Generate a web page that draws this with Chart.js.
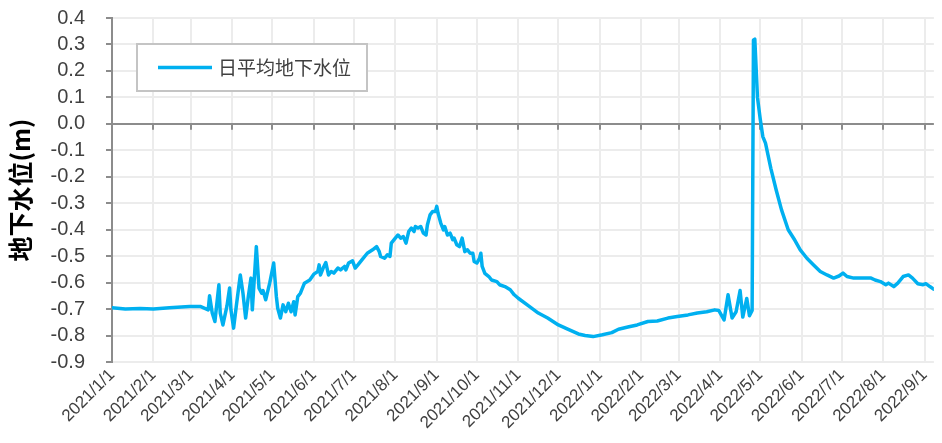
<!DOCTYPE html>
<html>
<head>
<meta charset="utf-8">
<script src="https://cdn.jsdelivr.net/npm/chart.js@4.4.1/dist/chart.umd.min.js"></script>
<style>
  html, body { margin: 0; padding: 0; background: #fff; }
  #wrap { width: 942px; height: 443px; position: relative; }
</style>
</head>
<body>
<div id="wrap"><canvas id="c" width="942" height="443"></canvas></div>
<script>
// Day offsets counted from 2021/1/1
const days = [0,10,21,31,43,58,66,72,73,75,77,80,81,83,86,88,89,91,93,96,98,100,102,104,105,108,110,112,113,115,118,121,123,124,126,128,130,132,134,136,137,139,141,144,148,151,154,155,156,158,160,162,164,166,169,171,174,175,177,180,182,184,187,191,195,198,200,201,204,206,208,209,212,214,216,218,220,222,224,226,227,229,231,233,235,236,238,240,242,243,244,246,248,249,251,253,255,256,258,260,262,264,266,268,270,271,273,275,276,277,279,282,284,288,290,294,298,301,304,312,319,326,334,341,349,354,360,367,374,379,386,393,401,408,416,423,431,438,445,451,454,458,461,464,467,470,472,475,477,479,480,481,483,485,487,489,493,497,501,506,511,515,520,525,530,535,540,544,547,550,555,563,568,571,575,579,581,585,588,592,596,599,603,607,609,612,615];
const levels = [-0.695,-0.700,-0.698,-0.700,-0.695,-0.690,-0.690,-0.703,-0.650,-0.715,-0.747,-0.608,-0.715,-0.760,-0.689,-0.620,-0.703,-0.772,-0.689,-0.571,-0.640,-0.734,-0.653,-0.583,-0.703,-0.464,-0.621,-0.640,-0.630,-0.665,-0.602,-0.526,-0.653,-0.697,-0.734,-0.684,-0.710,-0.678,-0.710,-0.672,-0.722,-0.653,-0.640,-0.602,-0.590,-0.568,-0.558,-0.533,-0.571,-0.545,-0.524,-0.571,-0.558,-0.564,-0.545,-0.552,-0.539,-0.552,-0.526,-0.518,-0.545,-0.533,-0.514,-0.489,-0.476,-0.464,-0.483,-0.501,-0.508,-0.495,-0.501,-0.451,-0.432,-0.420,-0.432,-0.426,-0.451,-0.407,-0.394,-0.407,-0.388,-0.394,-0.388,-0.413,-0.420,-0.382,-0.344,-0.331,-0.331,-0.312,-0.338,-0.375,-0.401,-0.388,-0.420,-0.413,-0.438,-0.432,-0.457,-0.464,-0.432,-0.483,-0.476,-0.489,-0.489,-0.520,-0.526,-0.508,-0.489,-0.539,-0.565,-0.577,-0.590,-0.596,-0.608,-0.615,-0.627,-0.646,-0.659,-0.689,-0.715,-0.734,-0.760,-0.776,-0.794,-0.800,-0.804,-0.797,-0.789,-0.776,-0.768,-0.760,-0.747,-0.745,-0.734,-0.728,-0.722,-0.715,-0.710,-0.703,-0.705,-0.741,-0.646,-0.734,-0.710,-0.630,-0.730,-0.660,-0.725,-0.705,0.317,0.320,0.100,0.020,-0.048,-0.073,-0.168,-0.250,-0.325,-0.400,-0.440,-0.476,-0.508,-0.533,-0.558,-0.571,-0.583,-0.575,-0.564,-0.577,-0.583,-0.583,-0.583,-0.590,-0.596,-0.608,-0.602,-0.615,-0.602,-0.577,-0.571,-0.583,-0.604,-0.608,-0.604,-0.615,-0.625];
// Month starts (day offsets) and their tick labels
const monthDays = [0,31,59,90,120,151,181,212,243,273,304,334,365,396,424,455,485,516,546,577,608];
const monthLabels = ['2021/1/1','2021/2/1','2021/3/1','2021/4/1','2021/5/1','2021/6/1','2021/7/1','2021/8/1','2021/9/1','2021/10/1','2021/11/1','2021/12/1','2022/1/1','2022/2/1','2022/3/1','2022/4/1','2022/5/1','2022/6/1','2022/7/1','2022/8/1','2022/9/1'];
const seriesName = '日平均地下水位';
const yTitle = '地下水位(m)';

const points = days.map((d, i) => ({ x: d, y: levels[i] }));
const LINE = '#00B0F0';
const AXIS = '#8c8c8c';
const GRID = '#ececec';
const TXT = '#404040';

const zeroTicks = {
  id: 'zeroTicks',
  beforeDatasetsDraw(chart) {
    const { ctx, scales: { x, y } } = chart;
    const y0 = y.getPixelForValue(0);
    ctx.save();
    ctx.strokeStyle = AXIS;
    ctx.lineWidth = 2;
    ctx.beginPath();
    monthDays.forEach(d => {
      const px = Math.round(x.getPixelForValue(d));
      ctx.moveTo(px, y0);
      ctx.lineTo(px, y0 + 6);
    });
    ctx.stroke();
    ctx.restore();
  }
};

const boxLegend = {
  id: 'boxLegend',
  afterDatasetsDraw(chart) {
    const { ctx } = chart;
    const ds = chart.data.datasets[0];
    ctx.save();
    ctx.fillStyle = '#fff';
    ctx.fillRect(137, 44, 230, 47);
    ctx.strokeStyle = '#c4c4c4';
    ctx.lineWidth = 2;
    ctx.strokeRect(137, 44, 230, 47);
    ctx.strokeStyle = ds.borderColor;
    ctx.lineWidth = 3.5;
    ctx.beginPath();
    ctx.moveTo(158, 67.5);
    ctx.lineTo(212, 67.5);
    ctx.stroke();
    ctx.fillStyle = TXT;
    ctx.font = '19px "Noto Sans CJK SC", "Noto Sans", sans-serif';
    ctx.textBaseline = 'middle';
    ctx.textAlign = 'left';
    ctx.fillText(ds.label, 218, 68);
    ctx.restore();
  }
};

new Chart(document.getElementById('c'), {
  type: 'line',
  data: {
    datasets: [{
      label: seriesName,
      data: points,
      borderColor: LINE,
      backgroundColor: LINE,
      borderWidth: 3.5,
      borderJoinStyle: 'round',
      borderCapStyle: 'round',
      pointRadius: 0,
      tension: 0,
      fill: false
    }]
  },
  options: {
    responsive: false,
    animation: false,
    devicePixelRatio: 1,
    layout: { padding: { top: 18, right: 5, left: 0, bottom: 0 } },
    plugins: { legend: { display: false }, tooltip: { enabled: false } },
    scales: {
      x: {
        type: 'linear',
        min: 0,
        max: 615,
        afterBuildTicks(scale) { scale.ticks = monthDays.map(v => ({ value: v })); },
        afterFit(scale) { scale.height = 81; },
        ticks: {
          autoSkip: false,
          minRotation: 45,
          maxRotation: 45,
          padding: 3,
          color: TXT,
          font: { family: 'Liberation Sans', size: 17 },
          callback(v) { const i = monthDays.indexOf(v); return i >= 0 ? monthLabels[i] : ''; }
        },
        grid: { color: GRID, lineWidth: 2, drawTicks: false },
        border: { display: false }
      },
      y: {
        min: -0.9,
        max: 0.4,
        afterBuildTicks(scale) {
          const t = [];
          for (let i = -9; i <= 4; i++) t.push({ value: i / 10 });
          scale.ticks = t;
        },
        afterFit(scale) {
          scale.width = 112;
          scale.paddingTop = 10;
          scale.paddingBottom = 10;
        },
        ticks: {
          autoSkip: false,
          color: TXT,
          padding: 21,
          font: { family: 'Liberation Sans', size: 20, lineHeight: 1 },
          callback(v) { return (Math.round(v * 10) / 10).toFixed(1); }
        },
        grid: {
          color: ctx => (ctx.tick && Math.abs(ctx.tick.value) < 1e-9 ? AXIS : GRID),
          lineWidth: 2,
          drawTicks: true,
          tickLength: 6,
          tickColor: AXIS,
          tickWidth: 2
        },
        border: { display: true, color: AXIS, width: 2 },
        title: {
          display: true,
          text: yTitle,
          color: '#000',
          font: { family: '"Noto Sans CJK SC"', size: 25, weight: 'bold' },
          padding: { top: 5, bottom: 0 }
        }
      }
    }
  },
  plugins: [zeroTicks, boxLegend]
});
</script>
</body>
</html>
